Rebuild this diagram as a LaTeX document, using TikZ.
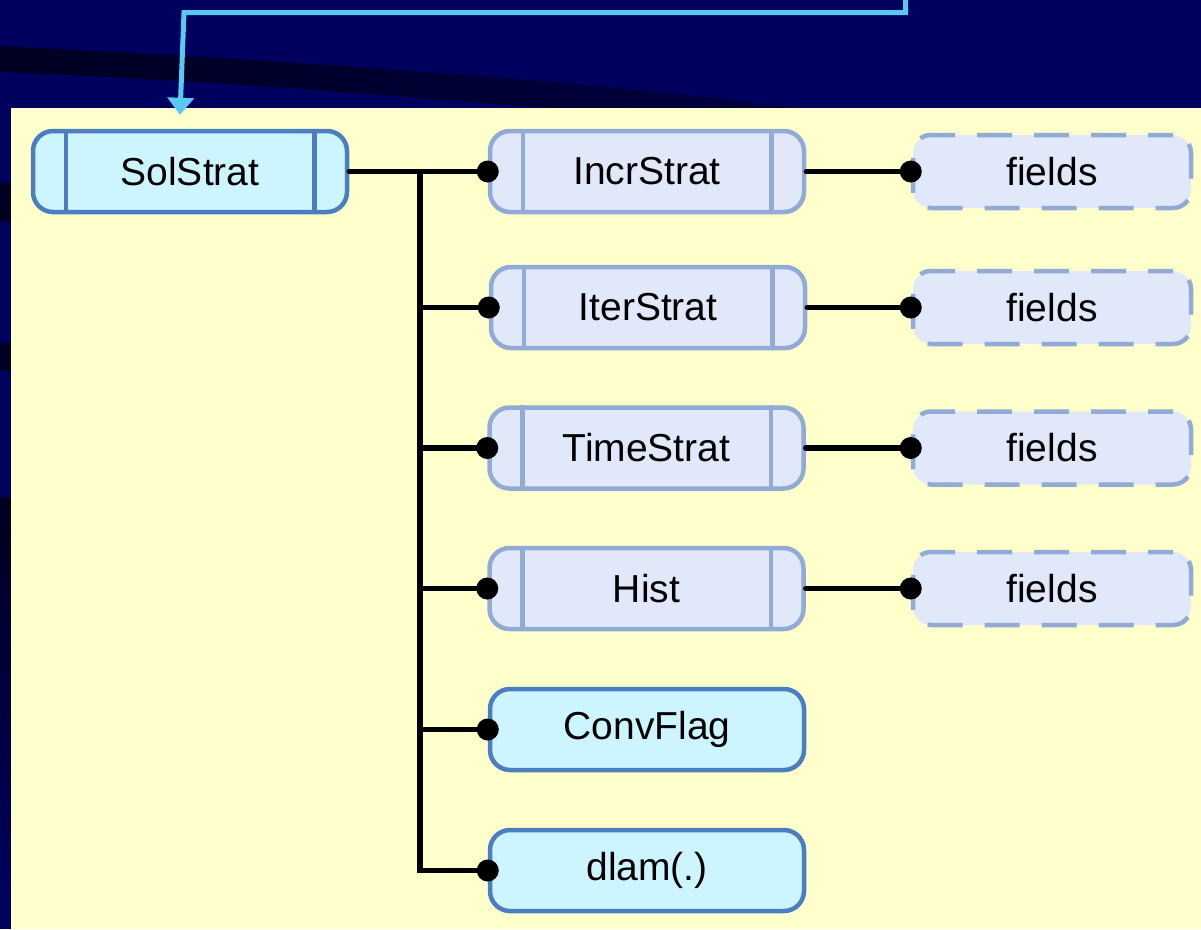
\documentclass[tikz,border=0pt]{standalone}
\usepackage{fontspec}
\setmainfont[Ligatures=NoCommon]{Liberation Sans}
\usetikzlibrary{arrows.meta,calc}
\definecolor{navy}{HTML}{00005E}
\definecolor{navydark}{HTML}{000022}
\definecolor{navymid}{HTML}{000040}
\definecolor{panel}{HTML}{FFFFCC}
\definecolor{cyanfill}{HTML}{CCF5FF}
\definecolor{darkedge}{HTML}{4A7EC1}
\definecolor{lavfill}{HTML}{E1E8FA}
\definecolor{lightedge}{HTML}{91AAD6}
\definecolor{linkblue}{HTML}{5BC8F2}
\tikzset{
  boxbase/.style={rectangle, rounded corners=20pt, line width=4.5pt, inner sep=0pt,
    minimum width=314pt, minimum height=81pt, font=\fontsize{39}{45}\selectfont},
  cbox/.style={boxbase, fill=cyanfill, draw=darkedge},
  lbox/.style={boxbase, fill=lavfill, draw=lightedge},
  fbox/.style={boxbase, fill=lavfill, draw=lightedge, minimum width=278pt,
    minimum height=73pt, rounded corners=18pt, dash pattern=on 35pt off 22pt,
    dash phase=10pt},
  bar/.style={line width=4.5pt},
  conn/.style={line width=5.5pt, draw=black, line cap=round},
  dotend/.style={fill=black},
  link/.style={line width=5pt, draw=linkblue, -{Triangle[width=26pt,length=17pt]}}
}
\begin{document}
\begin{tikzpicture}[x=1pt,y=-1pt]
% background
\fill[navy] (0,0) rectangle (1201,929);
\useasboundingbox (0,0) rectangle (1201,929);
\shade[left color=navydark, right color=navymid]
  (0,46) .. controls (250,58) and (600,80) .. (810,110)
  -- (570,110) .. controls (400,96) and (200,80) .. (0,72) -- cycle;
\fill[navydark] (0,183) rectangle (11,222);
\fill[navydark] (0,343) rectangle (11,371);
\fill[navydark] (0,497) rectangle (11,525);
\shade[top color=navydark, bottom color=navy] (0,525) rectangle (11,900);
% panel
\fill[panel] (11,108) rectangle (1201,929);

% nodes
\node[cbox] (sol)  at (190,171.5) {SolStrat};
\node[lbox] (incr) at (647,171.5) {IncrStrat};
\node[lbox] (iter) at (648,307.5) {IterStrat};
\node[lbox] (time) at (646.5,448) {TimeStrat};
\node[lbox] (hist) at (646.5,588.5) {Hist};
\node[cbox] (conv) at (647,729.5) {ConvFlag};
\node[cbox] (dlam) at (647,870.5) {dlam(.)};
\node[fbox] (f1) at (1052,171.5) {fields};
\node[fbox] (f2) at (1052,307.5) {fields};
\node[fbox] (f3) at (1052,448) {fields};
\node[fbox] (f4) at (1052,588.5) {fields};

% inner separator bars
\foreach \n/\c in {sol/darkedge,incr/lightedge,iter/lightedge,time/lightedge,hist/lightedge}{
  \draw[bar, \c] ($(\n.north west)+(35,0)$) -- ($(\n.south west)+(35,0)$);
  \draw[bar, \c] ($(\n.north east)+(-35,0)$) -- ($(\n.south east)+(-35,0)$);
}

% tree connectors
\coordinate (j) at (420,171.5);
\draw[conn] (sol.east) -- (j) -- (j |- dlam.west) -- (dlam.west);
\foreach \n in {incr,iter,time,hist,conv}
  \draw[conn] (j |- \n.west) -- (\n.west);
\foreach \n in {incr,iter,time,hist,conv,dlam}
  \fill[dotend] (\n.west) circle (11pt);

% field connectors
\foreach \a/\b in {incr/f1,iter/f2,time/f3,hist/f4}{
  \draw[conn] (\a.east) -- (\b.west);
  \fill[dotend] (\b.west) circle (11pt);
}

% incoming link from above
\coordinate (src) at (905.5,-3);
\coordinate (bend) at (184,12.5);
\coordinate (tipend) at ($(sol.north)+(-10,-14)$);
\draw[link] (src) -- (905.5,12.5) -- (bend) -- (tipend);
\end{tikzpicture}
\end{document}
